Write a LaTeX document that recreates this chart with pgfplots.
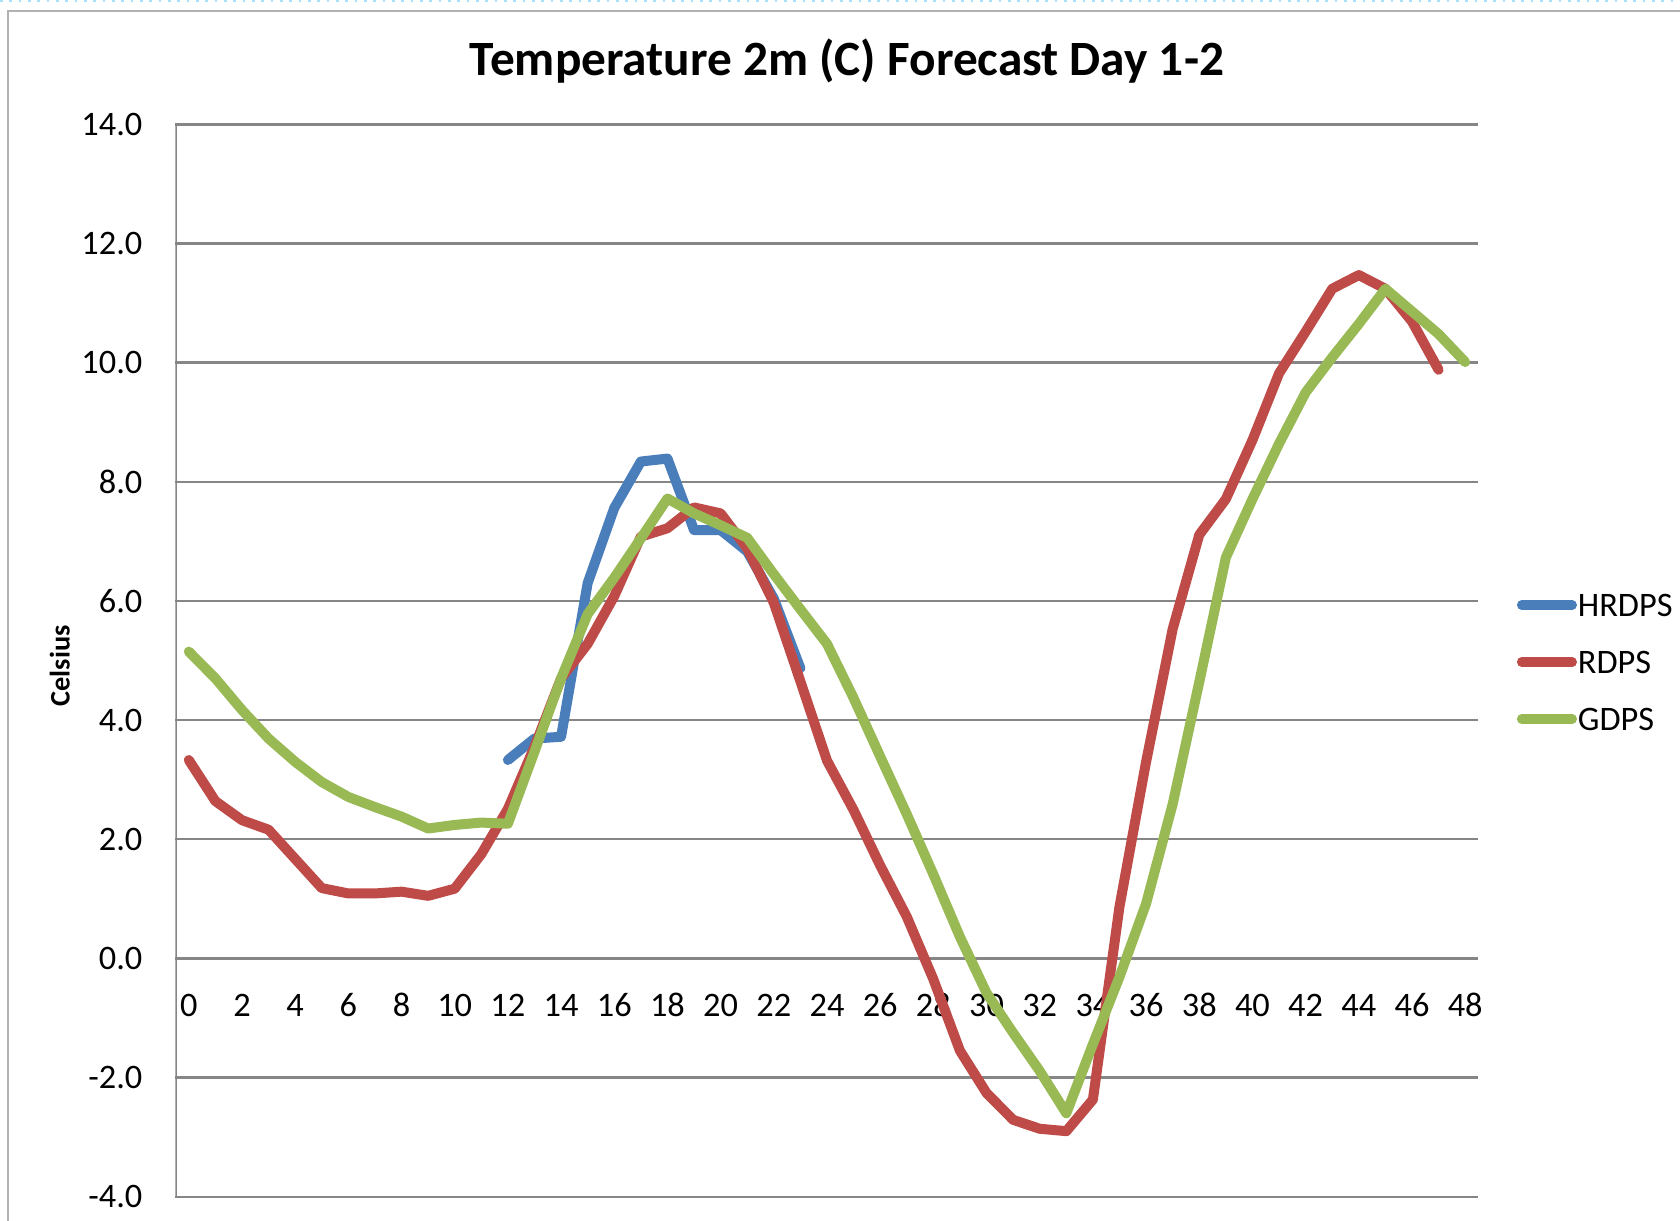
\documentclass[border=0pt]{standalone}
\usepackage{fontspec}
\setmainfont{Carlito}
\usepackage{pgfplots}
\pgfplotsset{compat=1.18}
\definecolor{hblue}{HTML}{4A7EBB}
\definecolor{rred}{HTML}{BE4B48}
\definecolor{ggreen}{HTML}{98B954}
\definecolor{gridgray}{HTML}{868686}
\begin{document}
\begin{tikzpicture}
\useasboundingbox (0pt,0pt) rectangle (504pt,366.3pt);
\draw[color=gray!60, line width=0.6pt] (2.5pt,-3pt) -- (2.5pt,363pt) -- (510pt,363pt);
\draw[color=cyan!35, dotted, line width=0.8pt] (0pt,366pt) -- (504pt,366pt);
\begin{axis}[
  at={(52.65pt,7.29pt)}, anchor=south west,
  scale only axis, width=390.9pt, height=321.7pt,
  xmin=-0.5, xmax=48.5, ymin=-4, ymax=14,
  xtick={0,2,...,48}, ytick={-4,-2,...,14},
  major tick length=0pt,
  axis line style={draw=none},
  ymajorgrids, grid style={color=gridgray, line width=0.7pt},
  tick label style={font=\fontsize{10.3}{12}\selectfont, /pgf/number format/assume math mode=true},
  y tick label style={/pgf/number format/fixed, /pgf/number format/fixed zerofill, /pgf/number format/precision=1, anchor=east, inner sep=0pt, xshift=-9.75pt},
  x tick label style={anchor=center, inner sep=0pt, yshift=57.5pt},
  title={Temperature 2m (C) Forecast Day 1-2},
  title style={font=\bfseries\fontsize{14.8}{17}\selectfont, at={(axis description cs:0.5154,1.0404)}, anchor=center},
  ylabel={Celsius},
  ylabel style={font=\bfseries\fontsize{8.5}{10}\selectfont, at={(axis description cs:-0.0889,0.495)}, anchor=center},
  legend style={draw=none, fill=none, at={(axis description cs:1.0290,0.4986)}, anchor=west, inner sep=0pt, row sep=10.1pt, column sep=0.3pt,
    nodes={inner sep=0pt, text height=7pt, text depth=0pt, font=\fontsize{10.3}{12}\selectfont, anchor=west}},
  legend cell align=left,
  legend image code/.code={\draw[#1, line width=2.8pt] (0pt,0pt) -- (15.2pt,0pt);},
  every axis plot/.append style={line width=3pt, line cap=round, line join=round},
]
\draw[gridgray, line width=1.1pt] (axis cs:-0.5,-4) -- (axis cs:-0.5,14);
\addplot[hblue] coordinates {
(12,3.33) (13,3.69) (14,3.72) (15,6.30) (16,7.56) (17,8.34) (18,8.39) (19,7.19)
(20,7.19) (21,6.83) (22,6.04) (23,4.87)};
\addlegendentry{HRDPS}
\addplot[rred] coordinates {
(0,3.33) (1,2.64) (2,2.32) (3,2.16) (4,1.67) (5,1.18) (6,1.09) (7,1.09) (8,1.12) (9,1.05)
(10,1.17) (11,1.75) (12,2.51) (13,3.55) (14,4.70) (15,5.28) (16,6.08) (17,7.08) (18,7.22) (19,7.57)
(20,7.47) (21,6.88) (22,5.97) (23,4.65) (24,3.32) (25,2.49) (26,1.56) (27,0.70) (28,-0.35) (29,-1.55)
(30,-2.26) (31,-2.71) (32,-2.86) (33,-2.90) (34,-2.37) (35,0.87) (36,3.30) (37,5.53) (38,7.11) (39,7.71)
(40,8.70) (41,9.82) (42,10.52) (43,11.24) (44,11.47) (45,11.24) (46,10.69) (47,9.88)};
\addlegendentry{RDPS}
\addplot[ggreen] coordinates {
(0,5.15) (1,4.70) (2,4.17) (3,3.69) (4,3.30) (5,2.96) (6,2.71) (7,2.54) (8,2.38) (9,2.18)
(10,2.24) (11,2.28) (12,2.26) (13,3.47) (14,4.70) (15,5.78) (16,6.39) (17,7.05) (18,7.72) (19,7.47)
(20,7.27) (21,7.06) (22,6.45) (23,5.86) (24,5.28) (25,4.37) (26,3.39) (27,2.42) (28,1.41) (29,0.36)
(30,-0.58) (31,-1.25) (32,-1.89) (33,-2.60) (34,-1.44) (35,-0.31) (36,0.92) (37,2.59) (38,4.64) (39,6.73)
(40,7.71) (41,8.64) (42,9.50) (43,10.09) (44,10.65) (45,11.24) (46,10.86) (47,10.48) (48,10.01)};
\addlegendentry{GDPS}
\end{axis}
\end{tikzpicture}
\end{document}
